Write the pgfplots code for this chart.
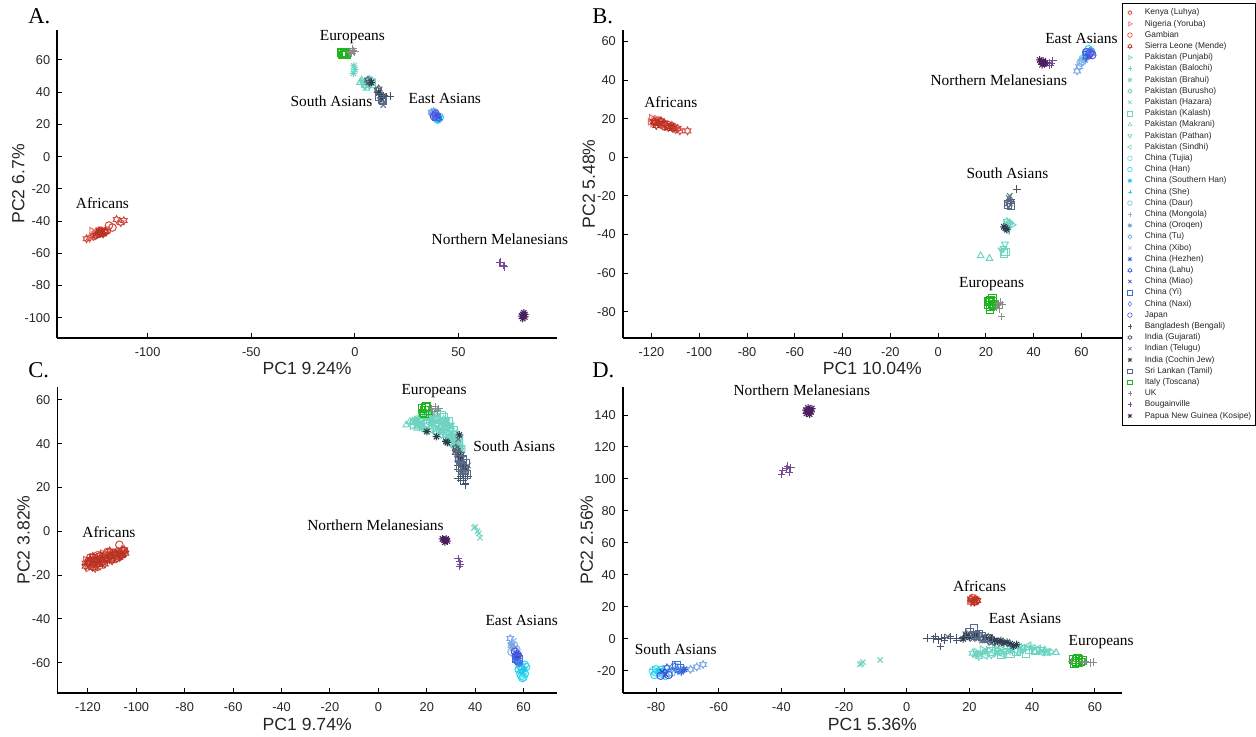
\documentclass[border=0pt]{standalone}
\usepackage{fontspec}
\setmainfont{Liberation Sans}
\newfontfamily\tnr{Liberation Serif}
\usepackage{pgfplots}
\pgfplotsset{compat=1.18}

\pgfdeclareplotmark{hexagram}{%
 \pgfpathmoveto{\pgfpointpolar{90}{\pgfplotmarksize}}%
 \pgfpathlineto{\pgfpointpolar{120}{0.577*\pgfplotmarksize}}%
 \pgfpathlineto{\pgfpointpolar{150}{\pgfplotmarksize}}%
 \pgfpathlineto{\pgfpointpolar{180}{0.577*\pgfplotmarksize}}%
 \pgfpathlineto{\pgfpointpolar{210}{\pgfplotmarksize}}%
 \pgfpathlineto{\pgfpointpolar{240}{0.577*\pgfplotmarksize}}%
 \pgfpathlineto{\pgfpointpolar{270}{\pgfplotmarksize}}%
 \pgfpathlineto{\pgfpointpolar{300}{0.577*\pgfplotmarksize}}%
 \pgfpathlineto{\pgfpointpolar{330}{\pgfplotmarksize}}%
 \pgfpathlineto{\pgfpointpolar{0}{0.577*\pgfplotmarksize}}%
 \pgfpathlineto{\pgfpointpolar{30}{\pgfplotmarksize}}%
 \pgfpathlineto{\pgfpointpolar{60}{0.577*\pgfplotmarksize}}%
 \pgfpathclose\pgfusepathqstroke}
\pgfdeclareplotmark{mstar}{%
 \pgfpathmoveto{\pgfqpoint{-\pgfplotmarksize}{0pt}}\pgfpathlineto{\pgfqpoint{\pgfplotmarksize}{0pt}}%
 \pgfpathmoveto{\pgfqpoint{0pt}{-\pgfplotmarksize}}\pgfpathlineto{\pgfqpoint{0pt}{\pgfplotmarksize}}%
 \pgfpathmoveto{\pgfpointpolar{45}{\pgfplotmarksize}}\pgfpathlineto{\pgfpointpolar{225}{\pgfplotmarksize}}%
 \pgfpathmoveto{\pgfpointpolar{135}{\pgfplotmarksize}}\pgfpathlineto{\pgfpointpolar{315}{\pgfplotmarksize}}%
 \pgfusepathqstroke}

\definecolor{tgray}{HTML}{262626}
\definecolor{cKen}{HTML}{D04A3F}
\definecolor{cNig}{HTML}{E8706A}
\definecolor{cGam}{HTML}{D84535}
\definecolor{cSL}{HTML}{B83324}
\definecolor{cPak}{HTML}{6CD4C0}
\definecolor{cTuj}{HTML}{5FE0EE}
\definecolor{cHan}{HTML}{2BD5F0}
\definecolor{cSHan}{HTML}{1EC8E6}
\definecolor{cShe}{HTML}{3FD0F0}
\definecolor{cDaur}{HTML}{7EB6EA}
\definecolor{cMon}{HTML}{8AB4E8}
\definecolor{cOro}{HTML}{6E9FD8}
\definecolor{cTu}{HTML}{78A8E6}
\definecolor{cXibo}{HTML}{9BBBEA}
\definecolor{cHez}{HTML}{2B5DD6}
\definecolor{cLahu}{HTML}{3F6ADB}
\definecolor{cMiao}{HTML}{2446C8}
\definecolor{cYi}{HTML}{3A6FE0}
\definecolor{cNaxi}{HTML}{4A86EE}
\definecolor{cJap}{HTML}{5A4FE0}
\definecolor{cBan}{HTML}{44556A}
\definecolor{cGuj}{HTML}{566274}
\definecolor{cTel}{HTML}{647083}
\definecolor{cCoc}{HTML}{2C3E50}
\definecolor{cSri}{HTML}{56698A}
\definecolor{cIta}{HTML}{1FB51F}
\definecolor{cUK}{HTML}{8C8C8C}
\definecolor{cBou}{HTML}{7A4A9A}
\definecolor{cPNG}{HTML}{4B1E5E}

\pgfplotsset{
 s1/.style={mark=hexagram, color=cKen},
 s2/.style={mark=triangle, mark options={rotate=-90}, color=cNig},
 s3/.style={mark=o, color=cGam},
 s4/.style={mark=hexagram, color=cSL},
 s5/.style={mark=triangle, mark options={rotate=-90}, color=cPak},
 s6/.style={mark=+, color=cPak},
 s7/.style={mark=mstar, color=cPak},
 s8/.style={mark=hexagram, color=cPak},
 s9/.style={mark=x, color=cPak},
 s10/.style={mark=square, color=cPak},
 s11/.style={mark=triangle, color=cPak},
 s12/.style={mark=triangle, mark options={rotate=180}, color=cPak},
 s13/.style={mark=triangle, mark options={rotate=90}, color=cPak},
 s14/.style={mark=o, color=cTuj},
 s15/.style={mark=o, color=cHan},
 s16/.style={mark=mstar, color=cSHan},
 s17/.style={mark=+, color=cShe},
 s18/.style={mark=o, color=cDaur},
 s19/.style={mark=+, color=cMon},
 s20/.style={mark=mstar, color=cOro},
 s21/.style={mark=hexagram, color=cTu},
 s22/.style={mark=x, color=cXibo},
 s23/.style={mark=mstar, color=cHez},
 s24/.style={mark=hexagram, color=cLahu},
 s25/.style={mark=x, color=cMiao},
 s26/.style={mark=square, color=cYi},
 s27/.style={mark=diamond, color=cNaxi},
 s28/.style={mark=o, color=cJap},
 s29/.style={mark=+, color=cBan},
 s30/.style={mark=hexagram, color=cGuj},
 s31/.style={mark=x, color=cTel},
 s32/.style={mark=mstar, color=cCoc},
 s33/.style={mark=square, color=cSri},
 s34/.style={mark=square, color=cIta},
 s35/.style={mark=+, color=cUK},
 s36/.style={mark=+, color=cBou},
 s37/.style={mark=mstar, color=cPNG},
 pca/.style={
  scale only axis, anchor=south west,
  axis x line*=bottom, axis y line*=left,
  axis line style={line width=0.9pt, black},
  tick align=inside, major tick length=2.5pt,
  tick style={line width=0.5pt, black},
  ticklabel style={font=\fontsize{6.4}{7}\selectfont, text=tgray},
  xticklabel style={yshift=-1.2pt},
  /pgf/number format/assume math mode=true,
  label style={font=\fontsize{8.8}{10}\selectfont, text=tgray},
  xlabel style={at={(axis description cs:0.5,-0.1)}, anchor=center},
  clip=false,
  every axis plot/.append style={only marks, mark size=1.9pt, line width=0.5pt},
 },
}
\newcommand{\pp}[2]{\addplot[#1] coordinates {#2};}
\newcommand{\cl}[3]{\node[font=\tnr\fontsize{7.7}{9}\selectfont, text=black] at (axis cs:#1,#2) {#3};}

\begin{document}
\begin{tikzpicture}
\useasboundingbox (0,0) rectangle (628pt,368.5pt);

% ---------------- Panel A
\begin{axis}[pca, at={(28.65pt,199.65pt)}, width=249.8pt, height=153.85pt,
 xmin=-143.6, xmax=97.5, ymin=-112.4, ymax=78.6,
 xtick={-100,-50,0,50}, ytick={-100,-80,...,60},
 xlabel={PC1 9.24\%}, ylabel={PC2 6.7\%},
 ylabel style={at={(axis description cs:-0.078,0.5)}, anchor=center}]
\pp{s1}{(-115,-39) (-111.5,-39.7) (-113,-41) (-129.5,-51) (-128,-50.5) (-126,-49.5)}
\pp{s2}{(-127,-46) (-125.5,-47.5) (-124,-46) (-122,-48) (-120,-47) (-126,-48.5)}
\pp{s3}{(-118.7,-42.8) (-119.6,-45.9) (-121,-47) (-117,-44) (-122.5,-46)}
\pp{s4}{(-123,-47) (-122,-46.5) (-124,-48) (-121.5,-48) (-123.5,-46) (-125,-49) (-120.5,-46.5) (-122.8,-47.5)}
\pp{s5}{(5,46) (4,45.5)}
\pp{s6}{(6,46) (7,44)}
\pp{s7}{(-0.5,56.3) (-0.7,51.7) (0,54)}
\pp{s8}{(7,48) (6,46.5) (8,47)}
\pp{s9}{(4,47) (6.5,44)}
\pp{s10}{(5,45) (8,45)}
\pp{s11}{(3.2,47.5) (5.6,42.4) (2.5,46)}
\pp{s12}{(5,44) (4,46)}
\pp{s13}{(9,46) (7,45)}
\pp{s14}{(38,26) (39,25.5)}
\pp{s15}{(39.5,24) (40,23) (41,24.5)}
\pp{s16}{(40.5,23.5) (39.8,22.8)}
\pp{s17}{(40,24) (39,23.5)}
\pp{s18}{(37.5,27) (38.5,27.5)}
\pp{s19}{(38,26.5) (37.5,25.5)}
\pp{s20}{(38,27)}
\pp{s21}{(37,27.5) (38,28)}
\pp{s22}{(38.5,26)}
\pp{s23}{(39,26)}
\pp{s24}{(39.5,25) (40.5,24)}
\pp{s25}{(40,25)}
\pp{s26}{(39.5,24.5)}
\pp{s27}{(38.8,25.5)}
\pp{s28}{(39,26.5) (38.2,25)}
\pp{s29}{(15.3,37.2) (13,36) (14,38) (12,39) (17,37.5)}
\pp{s30}{(11,41) (12.9,37.2) (6.3,47.5) (7,46) (11.5,42)}
\pp{s31}{(13.7,32) (13,35) (14,34)}
\pp{s32}{(11.5,39.5) (12.5,36.5) (8,46) (13.5,37.5)}
\pp{s33}{(13,35.5) (12,37) (13.5,34.5)}
\pp{s34}{(-6,64) (-5,63.5) (-6.5,64.5) (-5.5,63) (-4.5,64) (-6,63) (-5,64.5) (-4,63.3)}
\pp{s35}{(-2,65) (-1,66) (-1.5,64) (-0.5,65.5) (-2.5,64.5) (0,65) (-1,67)}
\pp{s36}{(70,-66) (71.5,-67.5) (72,-68.5) (70.5,-65.5)}
\pp{s37}{(81,-98) (82,-99.5) (81.5,-97) (80.5,-99) (82,-98) (81,-100.5)}
\cl{-1.2}{74.3}{Europeans}
\cl{-11.3}{34.1}{South Asians}
\cl{43.4}{36.3}{East Asians}
\cl{-121.8}{-28.6}{Africans}
\cl{70}{-51.5}{Northern Melanesians}
\end{axis}

% ---------------- Panel B
\begin{axis}[pca, at={(311.4pt,199.65pt)}, width=249.5pt, height=153.85pt,
 xmin=-132, xmax=76.9, ymin=-93.5, ymax=66,
 xtick={-120,-100,...,60}, ytick={-80,-60,...,60},
 xlabel={PC1 10.04\%}, ylabel={PC2 5.48\%},
 ylabel style={at={(axis description cs:-0.068,0.5)}, anchor=center},
 legend style={at={(1,1.0877)}, anchor=north west, draw=black, line width=0.4pt, fill=white,
   font=\fontsize{4.2}{5}\selectfont, text=tgray, inner xsep=1.2pt, inner ysep=2.3pt,
   row sep=0.9pt, nodes={inner xsep=0.8pt, inner ysep=0.3pt, text height=3.1pt, text depth=1.0pt}},
 legend cell align=left,
 legend image code/.code={\draw[mark repeat=2,mark phase=2,#1] plot coordinates {(0pt,0pt)(2.5pt,0pt)(5pt,0pt)}; \path (0pt,0pt) (9pt,0pt);},
 legend image post style={mark size=1.15pt, line width=0.3pt},
 legend entries={Kenya (Luhya),Nigeria (Yoruba),Gambian,Sierra Leone (Mende),Pakistan (Punjabi),Pakistan (Balochi),Pakistan (Brahui),Pakistan (Burusho),Pakistan (Hazara),Pakistan (Kalash),Pakistan (Makrani),Pakistan (Pathan),Pakistan (Sindhi),China (Tujia),China (Han),China (Southern Han),China (She),China (Daur),China (Mongola),China (Oroqen),China (Tu),China (Xibo),China (Hezhen),China (Lahu),China (Miao),China (Yi),China (Naxi),Japan,Bangladesh (Bengali),India (Gujarati),Indian (Telugu),India (Cochin Jew),Sri Lankan (Tamil),Italy (Toscana),UK,Bougainville,Papua New Guinea (Kosipe)}]
\pp{s1}{(-110.7,15.9) (-108.1,13.7) (-104.9,13.7) (-109,15) (-111.5,16.5) (-110,14.5)}
\pp{s2}{(-120,20.5) (-119,19) (-118,20) (-119.5,17.5) (-117.5,18.5) (-120.5,18.5)}
\pp{s3}{(-117,19) (-115.5,18) (-114.4,15.9) (-116,17) (-113.5,17) (-115,16.5)}
\pp{s4}{(-118.5,18) (-117,17.5) (-116,19) (-119,18.5) (-112,16) (-114.5,17.5) (-118,16.5) (-113,15.5) (-111,15)}
\pp{s5}{(31,-35) (30,-34)}
\pp{s6}{(29,-35.5)}
\pp{s7}{(29.5,-36)}
\pp{s8}{(28.8,-33.3) (29.8,-34)}
\pp{s9}{(28.5,-34.5)}
\pp{s10}{(27.6,-50) (28.3,-49)}
\pp{s11}{(17.8,-51) (21.5,-52.4)}
\pp{s12}{(27.4,-47.1) (28,-45) (26.5,-48)}
\pp{s13}{(29,-38)}
\pp{s14}{(60.5,51) (61.5,52)}
\pp{s15}{(63,56) (62.5,54) (64,55)}
\pp{s16}{(62,52.5) (63,53)}
\pp{s17}{(61,51.5) (62.5,53.5)}
\pp{s18}{(59.7,49.1) (60.5,50)}
\pp{s19}{(60,50) (61,51)}
\pp{s20}{(61.5,50.5)}
\pp{s21}{(58.2,44.8) (59,47)}
\pp{s22}{(60.5,49.5)}
\pp{s23}{(63.5,53.5)}
\pp{s24}{(64,54) (62,52)}
\pp{s25}{(63,52.5)}
\pp{s26}{(62.5,53)}
\pp{s27}{(64.5,54.5) (63.5,55)}
\pp{s28}{(63.5,54) (64.5,53) (62,54.5)}
\pp{s29}{(32.9,-16.5) (30.5,-22)}
\pp{s30}{(29.6,-24.1) (30.3,-23)}
\pp{s31}{(30,-20) (29.5,-21)}
\pp{s32}{(28.1,-36.7) (28.8,-37.5) (27.5,-36)}
\pp{s33}{(29.3,-24.5) (30.5,-25)}
\pp{s34}{(21.5,-75) (22.5,-76) (23,-74.5) (22,-77.5) (21,-76.5) (23.5,-76) (22.8,-73) (21.8,-79) (22,-74) (23,-77) (21.2,-74.5)}
\pp{s35}{(25,-76) (26,-75) (24.5,-77.5) (26.6,-82.6) (25.5,-78.5) (27,-76.5)}
\pp{s36}{(46.5,49) (47.5,48.5) (48,50) (46.8,47.5)}
\pp{s37}{(43,49.5) (44,50) (44.5,48.5) (43.5,48) (42.5,50.5) (45,49)}
\cl{60}{61.8}{East Asians}
\cl{25.4}{40.1}{Northern Melanesians}
\cl{-111.9}{28.6}{Africans}
\cl{29}{-8.2}{South Asians}
\cl{22.4}{-65.8}{Europeans}
\end{axis}

% ---------------- Panel C
\begin{axis}[pca, at={(28.7pt,21.85pt)}, width=249.8pt, height=153.3pt,
 xmin=-132.6, xmax=73.8, ymin=-74, ymax=66,
 xtick={-120,-100,...,60}, ytick={-60,-40,...,60},
 xlabel={PC1 9.74\%}, ylabel={PC2 3.82\%},
 ylabel style={at={(axis description cs:-0.0675,0.5)}, anchor=center}]
\pp{s1}{(-120,-15) (-118,-13) (-116,-14) (-114,-12) (-112,-11) (-110,-10) (-108,-9) (-106,-8.5) (-115,-16) (-111,-13) (-121,-14.5) (-119,-14) (-117,-17) (-115,-14.5) (-113,-10.5) (-109,-11) (-107,-12) (-105.5,-10.5)}
\pp{s2}{(-121,-13) (-119,-16) (-117,-12) (-115,-13) (-113,-14) (-111,-11) (-109,-12) (-107,-10) (-120,-17) (-114,-10) (-118,-15.5) (-116,-12.5) (-112,-13.5) (-110,-11.5)}
\pp{s3}{(-119,-12) (-116,-11) (-113,-12) (-110,-12.5) (-108,-11) (-107,-6.2) (-105,-9) (-118,-15) (-112,-9.5) (-117,-14)}
\pp{s4}{(-121,-16) (-119.5,-14) (-117.5,-15) (-116,-13) (-114,-14.5) (-112.5,-12.5) (-110.5,-11.5) (-108.5,-10) (-106.5,-11) (-118,-11.5) (-115,-11) (-111,-9) (-120,-14.5) (-119,-12.8) (-118,-16.5) (-117,-13.6) (-116,-15.2) (-115,-12.3) (-114,-13.2) (-113,-15) (-112,-12.3) (-111,-11.5) (-110,-13.5) (-109,-10.5) (-108,-12.5) (-107,-9.8) (-106,-11.2) (-105,-8.5) (-104.5,-10)}
\pp{s5}{(22,50) (26,48) (29,45) (31,42) (33,39) (24,52) (28,47) (20,48) (23,47) (25,46) (14,48) (18,51) (22,48) (26,46) (30,44) (34,39) (24,53)}
\pp{s6}{(20,51) (25,50) (30,44) (32,40) (27,46) (22,49) (27,44) (29,42) (31,40.5) (16,49.5) (20,50.5) (24,47) (28,46) (32,42) (22,54)}
\pp{s7}{(16,50) (19,52) (22,51) (18,49) (15,51) (17,47.5) (19,46.5) (18,47) (20,46.5) (16,51.5)}
\pp{s8}{(24,49) (27,51) (29,48) (26,46) (33,38) (21,52.5) (22,50) (26,50) (30,40) (28,42)}
\pp{s9}{(40,2) (41.5,-1) (42,-3) (39.5,1.5) (41,0)}
\pp{s10}{(21,53) (23,51) (25,48) (27,52) (29,50) (31,46) (24,54) (26,53) (20,52.5) (24,51) (28,48) (32,44) (26,52) (18,53)}
\pp{s11}{(11.5,48.5) (14,49.5) (16,48) (13,50) (14,50) (16,47)}
\pp{s12}{(26,50) (28,49) (30,47) (31,44) (33,41) (28,50.5) (30,48.5) (22,52) (26,44) (30,46) (34,37) (28,50)}
\pp{s13}{(30,43) (32,41) (34,38) (35,37.5) (31,39) (33,36.5) (32,45) (34,42) (24,45) (32,38) (30,48) (34,41) (20,48.5) (22,46) (18,49) (20,54) (24,49) (26,48) (28,44) (30,42) (32,40)}
\pp{s14}{(59,-62) (60,-64) (58.5,-65) (60,-66.5)}
\pp{s15}{(59.5,-63) (60.5,-65) (58,-63) (59,-66) (61,-62) (59.5,-67) (58.5,-61.5) (60.5,-61)}
\pp{s16}{(59,-64) (60,-63)}
\pp{s17}{(58,-64) (59.5,-61)}
\pp{s18}{(56,-52) (55,-55) (57,-54)}
\pp{s19}{(55.5,-53) (56.5,-56)}
\pp{s20}{(55,-51)}
\pp{s21}{(54.5,-49) (55,-52) (56,-53.5)}
\pp{s22}{(56,-50)}
\pp{s23}{(56.5,-57) (57.5,-58) (57,-56) (58,-57)}
\pp{s24}{(57,-59) (58,-60)}
\pp{s25}{(57.5,-57)}
\pp{s26}{(57,-58) (58,-58.5)}
\pp{s27}{(58.5,-60)}
\pp{s28}{(56.5,-55) (57.5,-56.5)}
\pp{s29}{(34,30) (35,26) (36,24) (35.8,21.2) (33,24) (37,25) (34.5,28) (33,28) (34,23) (36,22) (35,30.5) (33,30) (34,25) (35,23) (36,25)}
\pp{s30}{(33,35) (34,33) (35,31) (32.5,37) (36,29) (33.5,31) (33,33) (34,35) (32,36) (32,38)}
\pp{s31}{(35,28) (36,27) (34,32) (37,30) (34,27) (35,27) (36,28) (33,42)}
\pp{s32}{(20,45.5) (24,43.2) (27.9,41) (33.5,44) (28.5,40.5) (34,34) (35.5,29)}
\pp{s33}{(34,30) (35.5,27.5) (36.5,26) (33.5,33) (35,32.5) (34,29) (36,31) (35,33)}
\pp{s34}{(18,56) (19,55) (20,57) (18.5,54) (19.5,56.5) (20.5,55) (19,53.5)}
\pp{s35}{(22,56) (23.5,57) (24.5,55) (22.5,54.5) (25,56)}
\pp{s36}{(33.5,-13.9) (33,-12.5) (34,-15) (33.5,-16)}
\pp{s37}{(27,-4) (28,-3.5) (28.5,-4.5) (27.5,-5) (26.5,-3.5) (28,-4)}
\cl{23}{63.8}{Europeans}
\cl{56.1}{38.7}{South Asians}
\cl{-111.3}{-0.4}{Africans}
\cl{-1.2}{2.6}{Northern Melanesians}
\cl{59.2}{-40.8}{East Asians}
\end{axis}

% ---------------- Panel D
\begin{axis}[pca, at={(311.4pt,21.85pt)}, width=249.5pt, height=153.3pt,
 xmin=-90.6, xmax=68.6, ymin=-34, ymax=157.7,
 xtick={-80,-60,...,60}, ytick={-20,0,...,140},
 xlabel={PC1 5.36\%}, ylabel={PC2 2.56\%},
 ylabel style={at={(axis description cs:-0.072,0.5)}, anchor=center}]
\pp{s1}{(21,24) (22,25) (20.5,23)}
\pp{s2}{(21.5,24.5) (20,24)}
\pp{s3}{(22,23.5) (21,25.5)}
\pp{s4}{(21.5,23) (22.5,24) (20.5,25) (21.5,24)}
\pp{s5}{(22,-8) (26,-7) (30,-6) (34,-5) (38,-6) (42,-7) (24,-6.5) (28,-5.5) (30,-8) (36,-8) (46,-8)}
\pp{s6}{(24,-9) (28,-7.5) (32,-6) (36,-4.5) (40,-6.5) (44,-8)}
\pp{s7}{(22,-10) (25,-8) (29,-9) (33,-8)}
\pp{s8}{(21,-9) (23,-11) (27,-10) (31,-8) (35,-7)}
\pp{s9}{(-15,-16) (-14,-14.5) (-8.5,-13.2) (-14.5,-15.5)}
\pp{s10}{(30,-10) (35,-8) (38,-9) (41,-7.5) (27,-8) (33,-9) (39,-7)}
\pp{s11}{(47.6,-8.5) (44,-7) (41,-8) (45,-9)}
\pp{s12}{(33,-6) (37,-7) (40,-5) (43,-6.5) (23,-9) (29,-7) (45,-7.5)}
\pp{s13}{(36,-5) (39,-4) (42,-6) (25,-10.5) (31,-10) (37,-5.5) (43,-8.5)}
\pp{s14}{(-80,-21) (-78,-22) (-81,-20)}
\pp{s15}{(-79,-21) (-77,-23) (-80.5,-22.5) (-76,-21) (-78.5,-19.5) (-80,-19)}
\pp{s16}{(-79,-20) (-77.5,-21.5)}
\pp{s17}{(-81,-19) (-78,-18.5)}
\pp{s18}{(-75,-21) (-76.5,-19)}
\pp{s19}{(-73,-20) (-72,-21)}
\pp{s20}{(-74,-19)}
\pp{s21}{(-67,-17.5) (-65,-16) (-69,-19)}
\pp{s22}{(-70,-19.5)}
\pp{s23}{(-72,-20.5) (-71,-19)}
\pp{s24}{(-74,-17) (-76.5,-18)}
\pp{s25}{(-78,-20.5) (-77,-22)}
\pp{s26}{(-73.5,-16.5) (-72.5,-18.5)}
\pp{s27}{(-73,-19.5)}
\pp{s28}{(-76,-22.5) (-78.5,-23)}
\pp{s29}{(6.5,0.5) (8.5,0) (10,-0.5) (12,1) (14,0) (10.7,-4.8) (16,0.5) (18,1) (9,1.5) (11,0.5) (12,-1) (14,1.2) (16,-1)}
\pp{s30}{(20,2) (22,1.5) (24,0) (26,-1) (28,-2) (19,3) (23,2) (26,1)}
\pp{s31}{(21,3) (23,0.5) (25,-1) (27,-2.5) (30,-3) (13,1.5) (21,0) (24,-1)}
\pp{s32}{(22,2.5) (25,1) (28,-1) (31,-2.5) (34,-4.5) (19,2) (33,-3) (20,1) (27,0) (29,-1.5) (30,-1) (32,-2) (35,-3.5) (18,0)}
\pp{s33}{(21.4,6.7) (20,4) (23,3) (24,1.5) (26,0.5) (22,2)}
\pp{s34}{(53,-13) (54,-14) (55,-15) (56,-13.5) (54.5,-12) (53.5,-15.5) (55.5,-14.5) (54,-13) (55,-13) (54,-15)}
\pp{s35}{(57,-14) (58.5,-15) (59.5,-14.5) (52.5,-14) (56,-15)}
\pp{s36}{(-38,108) (-39.5,105) (-37.5,104) (-40,103) (-38.5,106.5) (-37,107)}
\pp{s37}{(-31,143) (-30.5,142) (-32,141) (-31.5,144.5) (-30.3,144) (-31,140.5) (-32.2,143)}
\cl{-33.5}{155.6}{Northern Melanesians}
\cl{23.2}{32.7}{Africans}
\cl{37.7}{12.9}{East Asians}
\cl{62}{-2.1}{Europeans}
\cl{-73.7}{-6.4}{South Asians}
\end{axis}

\node[font=\tnr\fontsize{11.3}{13}\selectfont, anchor=base west, inner sep=0pt] at (14pt,356.5pt) {A.};
\node[font=\tnr\fontsize{11.3}{13}\selectfont, anchor=base west, inner sep=0pt] at (296pt,356.5pt) {B.};
\node[font=\tnr\fontsize{11.3}{13}\selectfont, anchor=base west, inner sep=0pt] at (14pt,179.5pt) {C.};
\node[font=\tnr\fontsize{11.3}{13}\selectfont, anchor=base west, inner sep=0pt] at (296pt,179.5pt) {D.};
\end{tikzpicture}
\end{document}
